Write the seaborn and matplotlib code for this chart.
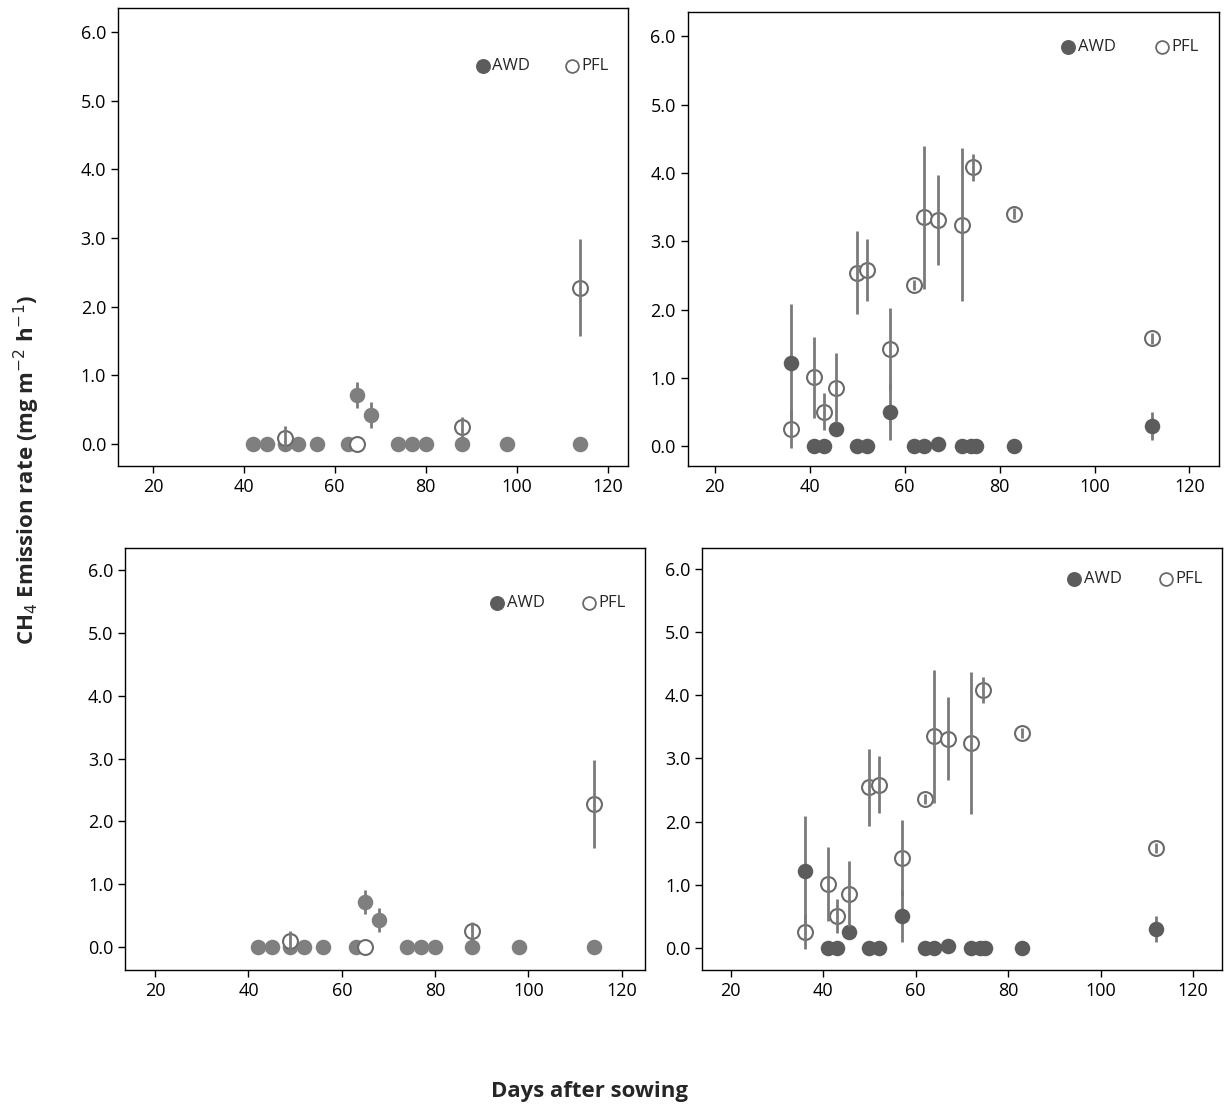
import matplotlib
matplotlib.use("Agg")
import matplotlib.pyplot as plt
import numpy as np
import pandas as pd
import seaborn as sns

# left panels (top-left and bottom-left are the same data)
left_awd_day = [42, 45, 49, 52, 56, 63, 65, 68, 74, 77, 80, 88, 98, 114]
left_awd_val = [0, 0, 0, 0, 0, 0, 0.72, 0.43, 0, 0, 0, 0, 0, 0]
left_awd_err = [0, 0, 0, 0, 0, 0, 0.19, 0.19, 0, 0, 0, 0, 0, 0]
left_pfl_day = [49, 65, 88, 114]
left_pfl_val = [0.09, 0.0, 0.25, 2.28]
left_pfl_err = [0.17, 0.0, 0.15, 0.70]

# right panels
right_awd_day = [36, 41, 43, 45.5, 50, 52, 57, 62, 64, 67, 72, 74, 75, 83, 112]
right_awd_val = [1.22, 0, 0, 0.25, 0, 0, 0.51, 0, 0, 0.03, 0, 0, 0, 0, 0.30]
right_awd_err = [0.86, 0, 0, 0, 0, 0, 0.41, 0, 0, 0, 0, 0, 0, 0, 0.21]
right_pfl_day = [36, 41, 43, 45.5, 50, 52, 57, 62, 64, 67, 72, 74.5, 83, 112]
right_pfl_val = [0.26, 1.01, 0.51, 0.86, 2.54, 2.58, 1.43, 2.36, 3.35, 3.31, 3.24, 4.08, 3.40, 1.58]
right_pfl_err = [0.28, 0.59, 0.27, 0.51, 0.61, 0.45, 0.60, 0.08, 1.05, 0.66, 1.12, 0.20, 0.08, 0.08]

x_ticks = [20, 40, 60, 80, 100, 120]
y_ticks = [0, 1, 2, 3, 4, 5, 6]

sns.set_theme(style="white")
plt.rcParams["font.family"] = ["Open Sans", "DejaVu Sans"]

fig = plt.figure(figsize=(12.28, 11.1), dpi=100)

panels = [
    ([0.096, 0.580, 0.415, 0.413], "left", (12.3, 124.4), (-0.32, 6.35), "#7f7f7f", 0.873),
    ([0.560, 0.580, 0.433, 0.409], "right", (14.3, 126.3), (-0.29, 6.35), "#5c5c5c", 0.923),
    ([0.102, 0.126, 0.423, 0.380], "left", (13.6, 124.9), (-0.37, 6.35), "#7f7f7f", 0.870),
    ([0.572, 0.126, 0.423, 0.380], "right", (13.9, 126.2), (-0.35, 6.32), "#5c5c5c", 0.927),
]

for rect, side, xlim, ylim, awd_col, leg_y in panels:
    ax = fig.add_axes(rect)
    if side == "left":
        awd = pd.DataFrame({"day": left_awd_day, "val": left_awd_val, "err": left_awd_err})
        pfl = pd.DataFrame({"day": left_pfl_day, "val": left_pfl_val, "err": left_pfl_err})
    else:
        awd = pd.DataFrame({"day": right_awd_day, "val": right_awd_val, "err": right_awd_err})
        pfl = pd.DataFrame({"day": right_pfl_day, "val": right_pfl_val, "err": right_pfl_err})

    m = awd["err"] > 0
    ax.errorbar(awd["day"][m], awd["val"][m], yerr=awd["err"][m], fmt="none",
                ecolor="#7a7a7a", elinewidth=2, capsize=0, zorder=1)
    sns.scatterplot(data=awd, x="day", y="val", ax=ax, color=awd_col, s=125,
                    edgecolor=awd_col, linewidth=0, zorder=2, legend=False)
    ax.scatter(pfl["day"], pfl["val"], s=115, facecolors="white",
               edgecolors="#6a6a6a", linewidths=1.5, zorder=3)
    m = pfl["err"] > 0
    ax.errorbar(pfl["day"][m], pfl["val"][m], yerr=pfl["err"][m], fmt="none",
                ecolor="#7a7a7a", elinewidth=2, capsize=0, zorder=4)

    ax.set_xlim(xlim)
    ax.set_ylim(ylim)
    ax.set_xticks(x_ticks)
    ax.set_yticks(y_ticks)
    ax.set_yticklabels([f"{v:.1f}" for v in y_ticks])
    ax.set_xlabel("")
    ax.set_ylabel("")
    ax.tick_params(direction="out", length=5, width=1, labelsize=13,
                   bottom=True, left=True, colors="black")
    for sp in ax.spines.values():
        sp.set_color("black")
        sp.set_linewidth(1)

    # legend
    ax.scatter([0.716], [leg_y], transform=ax.transAxes, s=95, color="#5c5c5c", clip_on=False)
    ax.text(0.735, leg_y, "AWD", transform=ax.transAxes, va="center", fontsize=12)
    ax.scatter([0.892], [leg_y], transform=ax.transAxes, s=85, facecolors="white",
               edgecolors="#6a6a6a", linewidths=1.3, clip_on=False)
    ax.text(0.91, leg_y, "PFL", transform=ax.transAxes, va="center", fontsize=12)

fig.text(0.022, 0.577, "CH$_4$ Emission rate (mg m$^{-2}$ h$^{-1}$)", rotation=90,
         ha="center", va="center", fontsize=16, fontweight="bold")
fig.text(0.48, 0.017, "Days after sowing", ha="center", va="center",
         fontsize=16, fontweight="bold")

fig.savefig("out.png", dpi=100)
